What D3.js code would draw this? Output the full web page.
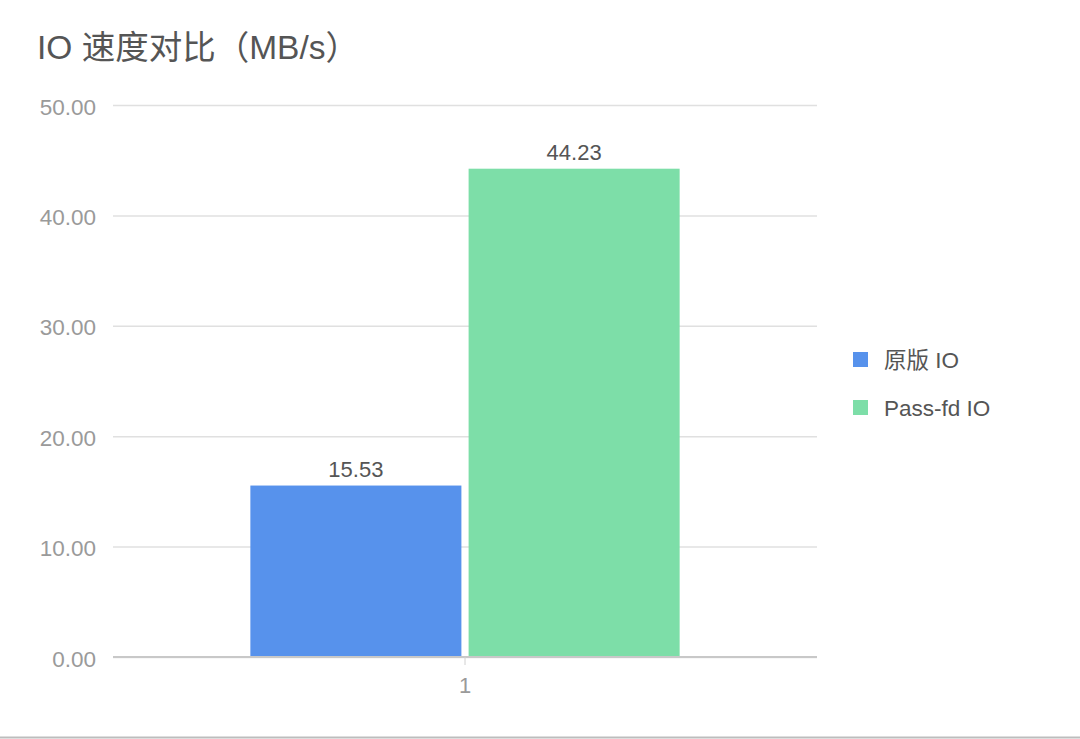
<!DOCTYPE html>
<html>
<head>
<meta charset="utf-8">
<script src="https://cdn.jsdelivr.net/npm/d3@7"></script>
<style>
  html, body { margin: 0; padding: 0; background: #fff; }
  svg { display: block; font-family: "Liberation Sans", "Noto Sans CJK SC", Arial, sans-serif; }
</style>
</head>
<body>
<div id="graph"></div>
<script>
"use strict";
(function() {
    const categories = ["1"];
    const seriesNames = ["原版 IO", "Pass-fd IO"];
    const seriesValues = [15.53, 44.23];
    const seriesColors = ["#5792ec", "#7ddea8"];
    const yTicks = [0, 10, 20, 30, 40, 50];

    const svgSize = { width: 1080, height: 739 };
    const plot = { left: 113, right: 817, top: 105, bottom: 657 };

    window.addEventListener("load", init);

    function init() {
        let svg = d3.select("#graph")
                    .append("svg")
                        .attr("width", svgSize.width)
                        .attr("height", svgSize.height);

        // title
        svg.append("text")
            .attr("x", 37)
            .attr("y", 59)
            .attr("font-size", 33.5)
            .attr("fill", "#555")
            .text("IO 速度对比（MB/s）");

        let y = d3.scaleLinear().domain([0, 50]).range([plot.bottom, plot.top]);
        let x0 = d3.scaleBand().domain(categories).range([plot.left, plot.right]).paddingInner(0).paddingOuter(0.32);
        let x1 = d3.scaleBand().domain(seriesNames).range([0, x0.bandwidth()]).paddingInner(0.033);

        // grid + y labels
        let yAxis = svg.append("g")
            .attr("transform", "translate(" + plot.left + ",0)")
            .call(d3.axisLeft(y).tickValues(yTicks).tickFormat(d3.format(".2f"))
                    .tickSize(-(plot.right - plot.left)).tickPadding(17));
        yAxis.select(".domain").remove();
        yAxis.selectAll(".tick line").attr("stroke", "#e0e0e0").attr("stroke-width", 1.5);
        yAxis.selectAll(".tick text")
            .attr("font-size", 22.5)
            .attr("fill", "#9a9a9a")
            .attr("dy", "0.4em")
            .attr("font-family", "Liberation Sans, Arial, sans-serif");

        // bars
        let groups = svg.selectAll(".cat")
            .data(categories)
            .enter()
            .append("g")
                .attr("transform", d => "translate(" + x0(d) + ",0)");

        groups.selectAll("rect")
            .data(seriesNames.map((n, i) => ({ name: n, value: seriesValues[i], color: seriesColors[i] })))
            .enter()
            .append("rect")
                .attr("x", d => x1(d.name))
                .attr("y", d => y(d.value))
                .attr("width", x1.bandwidth())
                .attr("height", d => y(0) - y(d.value))
                .attr("fill", d => d.color);

        groups.selectAll(".val")
            .data(seriesNames.map((n, i) => ({ name: n, value: seriesValues[i] })))
            .enter()
            .append("text")
                .attr("x", d => x1(d.name) + x1.bandwidth() / 2)
                .attr("y", d => y(d.value) - 9)
                .attr("text-anchor", "middle")
                .attr("font-size", 22)
                .attr("fill", "#555")
                .attr("font-family", "Liberation Sans, Arial, sans-serif")
                .text(d => d.value.toFixed(2));

        // x axis
        let xAxis = svg.append("g")
            .attr("transform", "translate(0," + plot.bottom + ")")
            .call(d3.axisBottom(x0).tickSize(8).tickPadding(12).tickSizeOuter(0));
        xAxis.select(".domain").attr("stroke", "#c8c8c8").attr("stroke-width", 2)
            .attr("d", "M" + plot.left + ",0H" + plot.right);
        xAxis.selectAll(".tick line").attr("stroke", "#d0d0d0");
        xAxis.selectAll(".tick text")
            .attr("font-size", 22)
            .attr("fill", "#9a9a9a")
            .attr("font-family", "Liberation Sans, Arial, sans-serif");

        // legend
        let legend = svg.append("g").attr("transform", "translate(853,352)");
        let items = legend.selectAll("g")
            .data(seriesNames)
            .enter()
            .append("g")
                .attr("transform", (d, i) => "translate(0," + i * 48 + ")");
        items.append("rect")
            .attr("width", 15)
            .attr("height", 15)
            .attr("fill", (d, i) => seriesColors[i]);
        items.append("text")
            .attr("x", 31)
            .attr("y", 15.5)
            .attr("font-size", 22.5)
            .attr("fill", "#555")
            .text(d => d);

        // bottom edge
        svg.append("line")
            .attr("x1", 0).attr("x2", svgSize.width)
            .attr("y1", 737.5).attr("y2", 737.5)
            .attr("stroke", "#bdbdbd")
            .attr("stroke-width", 2);
    }
})();
</script>
</body>
</html>
